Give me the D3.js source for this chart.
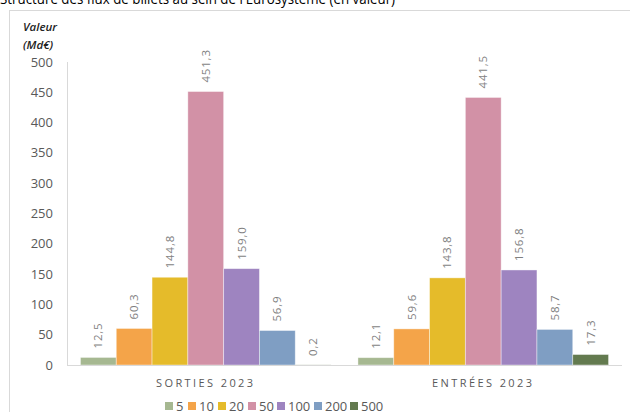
<!DOCTYPE html>
<html>
<head>
<meta charset="utf-8">
<script src="https://cdn.jsdelivr.net/npm/d3@7"></script>
<style>
  body { margin: 0; background: #fff; }
  svg { display: block; font-family: "Open Sans", "Liberation Sans", sans-serif; }
</style>
</head>
<body>
<div id="chart"></div>
<script>
// categories and series
var categories = ["SORTIES 2023", "ENTRÉES 2023"];
var denominations = ["5", "10", "20", "50", "100", "200", "500"];
var sorties = [12.5, 60.3, 144.8, 451.3, 159.0, 56.9, 0.2];
var entrees = [12.1, 59.6, 143.8, 441.5, 156.8, 58.7, 17.3];
var yTicks = [0, 50, 100, 150, 200, 250, 300, 350, 400, 450, 500];
var colors = ["#a6b891", "#f4a449", "#e5bb2a", "#d291a6", "#9e84c0", "#7f9ec3", "#637a4f"];

var W = 630, H = 412;
var plotLeft = 67, plotRight = 622, plotTop = 62, plotBottom = 365;

var svg = d3.select("#chart").append("svg")
    .attr("width", W).attr("height", H);

// title, cut off by top edge
svg.append("text")
    .attr("x", 0).attr("y", 4)
    .attr("font-size", 14.5)
    .attr("fill", "#000")
    .attr("textLength", 395)
    .attr("lengthAdjust", "spacingAndGlyphs")
    .text("Structure des flux de billets au sein de l'Eurosystème (en valeur)");

// chart frame
svg.append("rect")
    .attr("x", 9.5).attr("y", 10.5)
    .attr("width", 640).attr("height", 420)
    .attr("fill", "none").attr("stroke", "#d9d9d9");

var y = d3.scaleLinear().domain([0, 500]).range([plotBottom, plotTop]);
var x0 = d3.scaleBand().domain(categories).range([plotLeft, plotRight])
    .paddingInner(0.097).paddingOuter(0.0485);
var x1 = d3.scaleBand().domain(denominations).range([0, x0.bandwidth()]);
var color = d3.scaleOrdinal().domain(denominations).range(colors);

// y unit label
svg.append("text").attr("x", 23).attr("y", 31)
    .attr("font-size", 11.5).attr("font-style", "italic").attr("font-weight", 600)
    .attr("fill", "#222").text("Valeur");
svg.append("text").attr("x", 23).attr("y", 49)
    .attr("font-size", 11.5).attr("font-style", "italic").attr("font-weight", 600)
    .attr("fill", "#222").text("(Md€)");

// y axis
svg.append("g").selectAll("text").data(yTicks).enter().append("text")
    .attr("x", 53).attr("y", function(d) { return y(d); })
    .attr("dy", "0.35em")
    .attr("text-anchor", "end")
    .attr("font-size", 13).attr("fill", "#595959")
    .text(function(d) { return d; });

svg.append("line")
    .attr("x1", plotLeft + 0.5).attr("x2", plotLeft + 0.5)
    .attr("y1", plotTop).attr("y2", plotBottom)
    .attr("stroke", "#d9d9d9");

var data = [sorties, entrees];

var groups = svg.selectAll("g.group").data(categories)
    .enter().append("g")
    .attr("class", "group")
    .attr("transform", function(d) { return "translate(" + x0(d) + ",0)"; });

function rows(d, i) {
    return denominations.map(function(k, j) { return {k: k, v: data[i][j]}; });
}

groups.selectAll("rect").data(rows)
    .enter().append("rect")
    .attr("x", function(d) { return x1(d.k); })
    .attr("width", x1.bandwidth())
    .attr("y", function(d) { return y(d.v); })
    .attr("height", function(d) { return plotBottom - y(d.v); })
    .attr("fill", function(d) { return color(d.k); })
    .attr("stroke", "#fff").attr("stroke-opacity", 0.5).attr("stroke-width", 0.8);

groups.selectAll("text.val").data(rows)
    .enter().append("text")
    .attr("class", "val")
    .attr("transform", function(d) {
        var cx = x1(d.k) + x1.bandwidth() / 2 + 4;
        return "translate(" + cx + "," + (y(d.v) - 9) + ") rotate(-90)";
    })
    .attr("font-size", 11.5).attr("fill", "#7f7f7f")
    .attr("letter-spacing", 0.8)
    .text(function(d) { return d3.format(".1f")(d.v).replace(".", ","); });

// baseline
svg.append("line")
    .attr("x1", plotLeft).attr("x2", plotRight)
    .attr("y1", plotBottom + 0.5).attr("y2", plotBottom + 0.5)
    .attr("stroke", "#d9d9d9");

// category labels
svg.selectAll("text.cat").data(categories).enter().append("text")
    .attr("class", "cat")
    .attr("x", function(d) { return x0(d) + x0.bandwidth() / 2; })
    .attr("y", 387)
    .attr("text-anchor", "middle")
    .attr("font-size", 11).attr("fill", "#595959")
    .attr("letter-spacing", 2.4)
    .text(function(d) { return d; });

// legend
var legendX = [165, 188, 218, 248, 277, 314, 350];
var legend = svg.selectAll("g.legend").data(denominations).enter().append("g")
    .attr("class", "legend")
    .attr("transform", function(d, i) { return "translate(" + legendX[i] + ",402)"; });
legend.append("rect").attr("width", 8).attr("height", 8)
    .attr("fill", function(d) { return color(d); });
legend.append("text").attr("x", 11).attr("y", 9)
    .attr("font-size", 13).attr("fill", "#595959")
    .text(function(d) { return d; });
</script>
</body>
</html>
